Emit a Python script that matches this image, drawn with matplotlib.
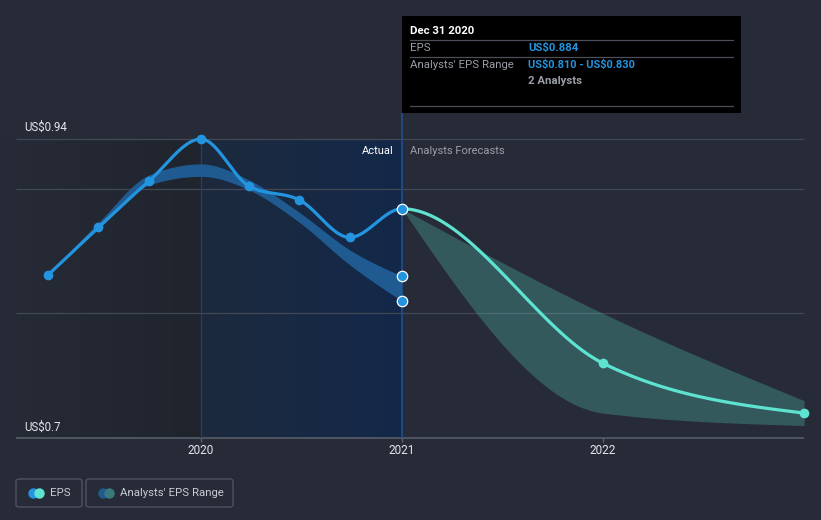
import numpy as np
import matplotlib
matplotlib.use('Agg')
import matplotlib.pyplot as plt
from matplotlib.patches import Rectangle, FancyBboxPatch

plt.rcParams['font.family'] = ['Roboto', 'DejaVu Sans']
plt.rcParams['text.parse_math'] = False

# data
eps_dates = [2019.24, 2019.49, 2019.74, 2020.0, 2020.24, 2020.49, 2020.74, 2021.0, 2022.0, 2023.0]
eps_vals = [0.831, 0.869, 0.906, 0.940, 0.902, 0.891, 0.861, 0.884, 0.760, 0.720]
split_date = 2021.0

past_range_dates = [2019.24, 2019.49, 2019.74, 2020.0, 2020.24, 2020.49, 2020.74, 2021.0]
past_range_hi = [0.831, 0.873, 0.911, 0.920, 0.907, 0.881, 0.851, 0.830]
past_range_lo = [0.831, 0.868, 0.903, 0.910, 0.899, 0.873, 0.839, 0.810]

fc_dates = [2021.0, 2022.0, 2023.0]
fc_hi = [0.884, 0.800, 0.730]
fc_lo = [0.884, 0.720, 0.710]

y_grid = [0.94, 0.90, 0.80, 0.70]
x_ticks = [2020, 2021, 2022]

BG = '#262b37'
BLUE = '#2394df'
TEAL = '#5ee3d1'

W, H = 821, 520


def monotone(x, y, n=60):
    # d3 curveMonotoneX style interpolation
    x = np.asarray(x, float)
    y = np.asarray(y, float)
    h = np.diff(x)
    s = np.diff(y) / h
    m = np.zeros(len(x))
    for k in range(1, len(x) - 1):
        p = (s[k - 1] * h[k] + s[k] * h[k - 1]) / (h[k - 1] + h[k])
        m[k] = (np.sign(s[k - 1]) + np.sign(s[k])) * min(abs(s[k - 1]), abs(s[k]), 0.5 * abs(p))
    if len(x) > 2:
        m[0] = (3 * s[0] - m[1]) / 2
        m[-1] = (3 * s[-1] - m[-2]) / 2
    else:
        m[:] = s[0]
    xs, ys = [], []
    for k in range(len(x) - 1):
        t = np.linspace(0, 1, n)
        h00 = 2 * t**3 - 3 * t**2 + 1
        h10 = t**3 - 2 * t**2 + t
        h01 = -2 * t**3 + 3 * t**2
        h11 = t**3 - t**2
        xs.append(x[k] + t * h[k])
        ys.append(h00 * y[k] + h10 * h[k] * m[k] + h01 * y[k + 1] + h11 * h[k] * m[k + 1])
    return np.concatenate(xs), np.concatenate(ys)


fig = plt.figure(figsize=(W / 100, H / 100), dpi=100, facecolor=BG)
ax = fig.add_axes([0, 0, 1, 1])
ax.set_facecolor(BG)
ax.set_axis_off()

# pixel -> data mapping (2020 at x=201, 1 year = 201px; 0.94 at y=139, 0.7 at y=438)
ppy = 201.0
ppv = (438 - 139) / 0.24
ax.set_xlim(2020 - 201 / ppy, 2020 + (W - 201) / ppy)
ax.set_ylim(0.94 - (H - 139) / ppv, 0.94 + 139 / ppv)


def fx(px):
    return px / W


def fy(py):
    return 1 - py / H


x_left = 2020 - (201 - 16) / ppy
x_right = 2023.0

# shaded past regions
g = np.linspace(0, 1, 256).reshape(1, -1)
c1 = np.array([0x26, 0x2b, 0x37]) / 255
c2 = np.array([0x20, 0x24, 0x2d]) / 255
img = c1[None, None, :] * (1 - g[..., None]) + c2[None, None, :] * g[..., None]
ax.imshow(img, extent=[2019.0, 2020.0, 0.70, 0.94], aspect='auto', zorder=0)
c3 = np.array([0x1d, 0x2a, 0x3d]) / 255
c4 = np.array([0x13, 0x28, 0x4a]) / 255
img2 = c3[None, None, :] * (1 - g[..., None]) + c4[None, None, :] * g[..., None]
ax.imshow(img2, extent=[2020.0, 2021.0, 0.70, 0.94], aspect='auto', zorder=0)

# grid
for v in y_grid[:-1]:
    ax.hlines(v, x_left, x_right, color='#424855', lw=0.9, zorder=1)
ax.hlines(0.70, x_left, x_right, color='#5c626d', lw=1.1, zorder=1)
ax.vlines(2020.0, 0.70, 0.94, color='#22406a', lw=0.9, zorder=1)
ax.vlines(2021.0, 0.70, 0.94 + 26 / ppv, color='#1f4f8f', lw=1.2, zorder=1)
for t in x_ticks:
    ax.vlines(t, 0.70 - 4 / ppv, 0.70, color='#5c626d', lw=1, zorder=1)
    ax.text(t, 0.94 - (451 - 139) / ppv, str(t), color='#e3e6eb', fontsize=8.5,
            ha='center', va='center')

ax.text(fx(24), fy(127), 'US$0.94', transform=ax.transAxes, color='#e3e6eb',
        fontsize=8.3, ha='left', va='center')
ax.text(fx(24), fy(427), 'US$0.7', transform=ax.transAxes, color='#e3e6eb',
        fontsize=8.3, ha='left', va='center')
ax.text(fx(394), fy(151), 'Actual', transform=ax.transAxes, color='#ffffff',
        fontsize=8, ha='right', va='center')
ax.text(fx(410), fy(151), 'Analysts Forecasts', transform=ax.transAxes, color='#9a9fa8',
        fontsize=8, ha='left', va='center')

# past analyst range band
bx, bh = monotone(past_range_dates, past_range_hi)
_, bl = monotone(past_range_dates, past_range_lo)
ax.fill_between(bx, bl, bh, color='#1f5b90', lw=0, zorder=2)

# forecast band
fxs, fh = monotone(fc_dates, fc_hi)
_, fl = monotone(fc_dates, fc_lo)
ax.fill_between(fxs, fl, fh, color=TEAL, alpha=0.25, lw=0, zorder=2)

# eps line
ex, ey = monotone(eps_dates, eps_vals)
past = ex <= split_date
ax.plot(ex[past], ey[past], color=BLUE, lw=2.3, zorder=3, solid_capstyle='round')
ax.plot(ex[~past], ey[~past], color=TEAL, lw=2.3, zorder=3, solid_capstyle='round')

pd_ = [d for d in eps_dates if d < split_date]
pv_ = [v for d, v in zip(eps_dates, eps_vals) if d < split_date]
ax.plot(pd_, pv_, 'o', color=BLUE, ms=7, mec='none', zorder=4)
fd_ = [d for d in eps_dates if d > split_date]
fv_ = [v for d, v in zip(eps_dates, eps_vals) if d > split_date]
ax.plot(fd_, fv_, 'o', color=TEAL, ms=7, mec='none', zorder=4, clip_on=True)
sel_vals = [eps_vals[eps_dates.index(split_date)], past_range_hi[-1], past_range_lo[-1]]
ax.plot([split_date] * 3, sel_vals, 'o', color=BLUE, ms=7.5, mec='white', mew=0.9, zorder=5)

# tooltip
ax.add_patch(Rectangle((fx(402), fy(113)), fx(741) - fx(402), fy(16) - fy(113),
                       transform=ax.transAxes, facecolor='#000000', edgecolor='none', zorder=6))
for yy in [40, 57, 106]:
    ax.plot([fx(410), fx(733)], [fy(yy), fy(yy)], transform=ax.transAxes,
            color='#4a4f58', lw=0.9, zorder=7)
ax.text(fx(410), fy(31), 'Dec 31 2020', transform=ax.transAxes, color='white',
        fontsize=8.2, fontweight='bold', va='center', zorder=7)
ax.text(fx(410), fy(48), 'EPS', transform=ax.transAxes, color='#9a9ea6',
        fontsize=8.2, va='center', zorder=7)
ax.text(fx(528), fy(48), 'US$0.884', transform=ax.transAxes, color=BLUE,
        fontsize=8.2, fontweight='bold', va='center', zorder=7)
ax.text(fx(410), fy(65), "Analysts' EPS Range", transform=ax.transAxes, color='#9a9ea6',
        fontsize=8.2, va='center', zorder=7)
ax.text(fx(528), fy(65), 'US$0.810 - US$0.830', transform=ax.transAxes, color=BLUE,
        fontsize=7.9, fontweight='bold', va='center', zorder=7)
ax.text(fx(528), fy(81), '2 Analysts', transform=ax.transAxes, color='#9a9ea6',
        fontsize=8.2, fontweight='bold', va='center', zorder=7)

# legend
for x0, x1, label, ca, cb in [(16, 82, 'EPS', BLUE, TEAL),
                               (86, 233, "Analysts' EPS Range", '#1f5b90', '#3b7a7c')]:
    ax.add_patch(FancyBboxPatch((fx(x0), fy(507)), fx(x1) - fx(x0), fy(479) - fy(507),
                                boxstyle='round,pad=0,rounding_size=0.004',
                                transform=ax.transAxes, facecolor='none',
                                edgecolor='#4d535e', lw=1, zorder=6))
    ax.plot([fx(x0 + 17)], [fy(493)], 'o', transform=ax.transAxes, color=ca, ms=7.5,
            mec='none', zorder=7)
    ax.plot([fx(x0 + 23)], [fy(493)], 'o', transform=ax.transAxes, color=cb, ms=7.5,
            mec='none', zorder=8)
    ax.text(fx(x0 + 34), fy(493), label, transform=ax.transAxes, color='#c9ccd2',
            fontsize=8.2, va='center', zorder=7)

fig.savefig('out.png', dpi=100, facecolor=BG)
